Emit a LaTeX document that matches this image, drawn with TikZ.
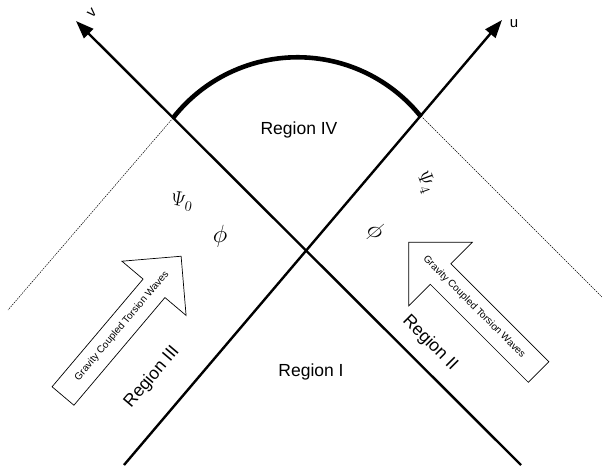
\documentclass[tikz,border=0pt]{standalone}
\usepackage{fontspec}
\setmainfont{Liberation Sans}
\usetikzlibrary{arrows.meta}
\begin{document}
\begin{tikzpicture}[x=1pt,y=-1pt,
  axis/.style={line width=2.4pt, -{Triangle[length=18pt,width=13pt]}},
  horizon/.style={line width=4.6pt},
  asym/.style={line width=0.5pt, dash pattern=on 1.5pt off 1pt},
  blockarrow/.style={draw, line width=0.7pt, fill=white, line join=miter},
  region/.style={font=\fontsize{17.5}{20}\selectfont, inner sep=0pt},
  wave/.style={font=\fontsize{10}{12}\selectfont, inner sep=0pt},
  axlabel/.style={font=\fontsize{15}{18}\selectfont, inner sep=0pt},
  psi/.style={inner sep=0pt, font=\fontsize{20}{22}\selectfont},
  phi/.style={inner sep=0pt, font=\fontsize{27}{29}\selectfont}]
\useasboundingbox (0,0) rectangle (602,468);
\coordinate (uS) at (124,465);
\coordinate (uE) at (502,20);
\coordinate (vS) at (521,465);
\coordinate (vE) at (76,21);
\coordinate (L) at (173,118);
\coordinate (R) at (421,116);
\coordinate (Lend) at (8,310);
\coordinate (Rend) at (602,297);
\draw[asym] (L) -- (Lend);
\draw[asym] (R) -- (Rend);
\draw[axis] (uS) -- (uE);
\draw[axis] (vS) -- (vE);
\draw[horizon] (L) arc[start angle=-142, end angle=-38.6, radius=158];
\node[axlabel, rotate=45] (vlab) at (92,13) {v};
\node[axlabel] (ulab) at (514,24) {u};
\node[region] (r4) at (299,130) {Region IV};
\node[region] (r1) at (311,372) {Region I};
\node[region, rotate=49.7] (r3) at (152,377) {Region III};
\node[region, rotate=-45] (r2) at (430,343) {Region II};
\draw[blockarrow, shift={(63,396)}, rotate=49.8] (0,-14.3) -- (141,-14.3) -- (141,-42) -- (183,0) -- (141,42) -- (141,14.3) -- (0,14.3) -- cycle;
\draw[blockarrow, shift={(538.5,372)}, rotate=135] (0,-14.5) -- (138.5,-14.5) -- (138.5,-45) -- (183.5,0) -- (138.5,45) -- (138.5,14.5) -- (0,14.5) -- cycle;
\node[wave, rotate=49.8] (w1) at (122,326) {Gravity Coupled Torsion Waves};
\node[wave, rotate=-45] (w2) at (474,307) {Gravity Coupled Torsion Waves};
\node[psi, rotate=-10] (psi0) at (182,201) {$\Psi_0$};
\node[psi, rotate=-70] (psi4) at (426,182) {$\Psi_4$};
\node[phi] (phiL) at (220,236) {$\phi$};
\node[phi, rotate=-35] (phiR) at (375,232) {$\phi$};
\end{tikzpicture}
\end{document}
